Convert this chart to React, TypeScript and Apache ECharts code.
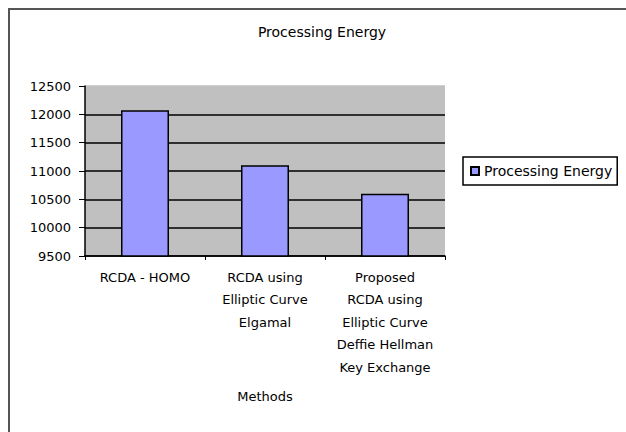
import React, { useEffect, useRef } from "react";
import * as echarts from "echarts";

const categories = [
  "RCDA - HOMO",
  "RCDA using\nElliptic Curve\nElgamal",
  "Proposed\nRCDA using\nElliptic Curve\nDeffie Hellman\nKey Exchange",
];
const seriesName = "Processing Energy";
const values = [12070, 11100, 10600];
const yMin = 9500;
const yMax = 12500;
const yInterval = 500;

const FONT = "DejaVu Sans";

export default function App() {
  const ref = useRef<HTMLDivElement>(null);
  useEffect(() => {
    if (!ref.current) return;
    const chart = echarts.init(ref.current, undefined, { renderer: "svg" });
    chart.setOption({
      animation: false,
      backgroundColor: "#ffffff",
      textStyle: { fontFamily: FONT },
      title: {
        text: "Processing Energy",
        left: 317,
        textAlign: "center",
        top: 20,
        textStyle: { fontFamily: FONT, fontSize: 14, fontWeight: "normal", color: "#000" },
      },
      legend: {
        left: 463,
        top: 157,
        orient: "vertical",
        padding: [7, 5, 7, 7],
        borderColor: "#000",
        borderWidth: 1.5,
        itemWidth: 8,
        itemHeight: 8,
        icon: "rect",
        textStyle: { fontFamily: FONT, fontSize: 14, color: "#000" },
        data: [seriesName],
      },
      graphic: [
        {
          type: "rect",
          shape: { x: 9, y: 9, width: 700, height: 500 },
          style: { fill: "none", stroke: "#555", lineWidth: 2 },
          silent: true,
        },
      ],
      grid: {
        left: 85,
        right: 181,
        top: 86,
        bottom: 176,
        show: true,
        backgroundColor: "#c0c0c0",
        borderWidth: 0,
      },
      xAxis: {
        type: "category",
        data: categories,
        name: "Methods",
        nameLocation: "middle",
        nameGap: 134,
        nameTextStyle: { fontFamily: FONT, fontSize: 13, color: "#000" },
        axisLine: { show: true, lineStyle: { color: "#000", width: 1.5 } },
        axisTick: { show: true, length: 4, lineStyle: { color: "#000" } },
        axisLabel: {
          interval: 0,
          margin: 10,
          fontFamily: FONT,
          fontSize: 13,
          lineHeight: 22.5,
          color: "#000",
          align: "center",
        },
      },
      yAxis: {
        type: "value",
        min: yMin,
        max: yMax,
        interval: yInterval,
        axisLine: { show: true, lineStyle: { color: "#000", width: 1.5 } },
        axisTick: { show: true, length: 6, lineStyle: { color: "#000" } },
        axisLabel: {
          margin: 14,
          fontFamily: FONT,
          fontSize: 13,
          color: "#000",
          formatter: (v: number) => String(v),
        },
        splitLine: {
          show: true,
          lineStyle: {
            color: ["#000", "#000", "#000", "#000", "#000", "#000", "#c0c0c0"],
            width: 1.5,
          },
        },
      },
      series: [
        {
          name: seriesName,
          type: "bar",
          data: values,
          barWidth: "40%",
          itemStyle: { color: "#9999ff", borderColor: "#000", borderWidth: 1.5 },
        },
      ],
    });
    return () => chart.dispose();
  }, []);
  return (
    <div
      ref={ref}
      style={{ position: "fixed", left: 0, top: 0, width: 626, height: 432 }}
    />
  );
}
